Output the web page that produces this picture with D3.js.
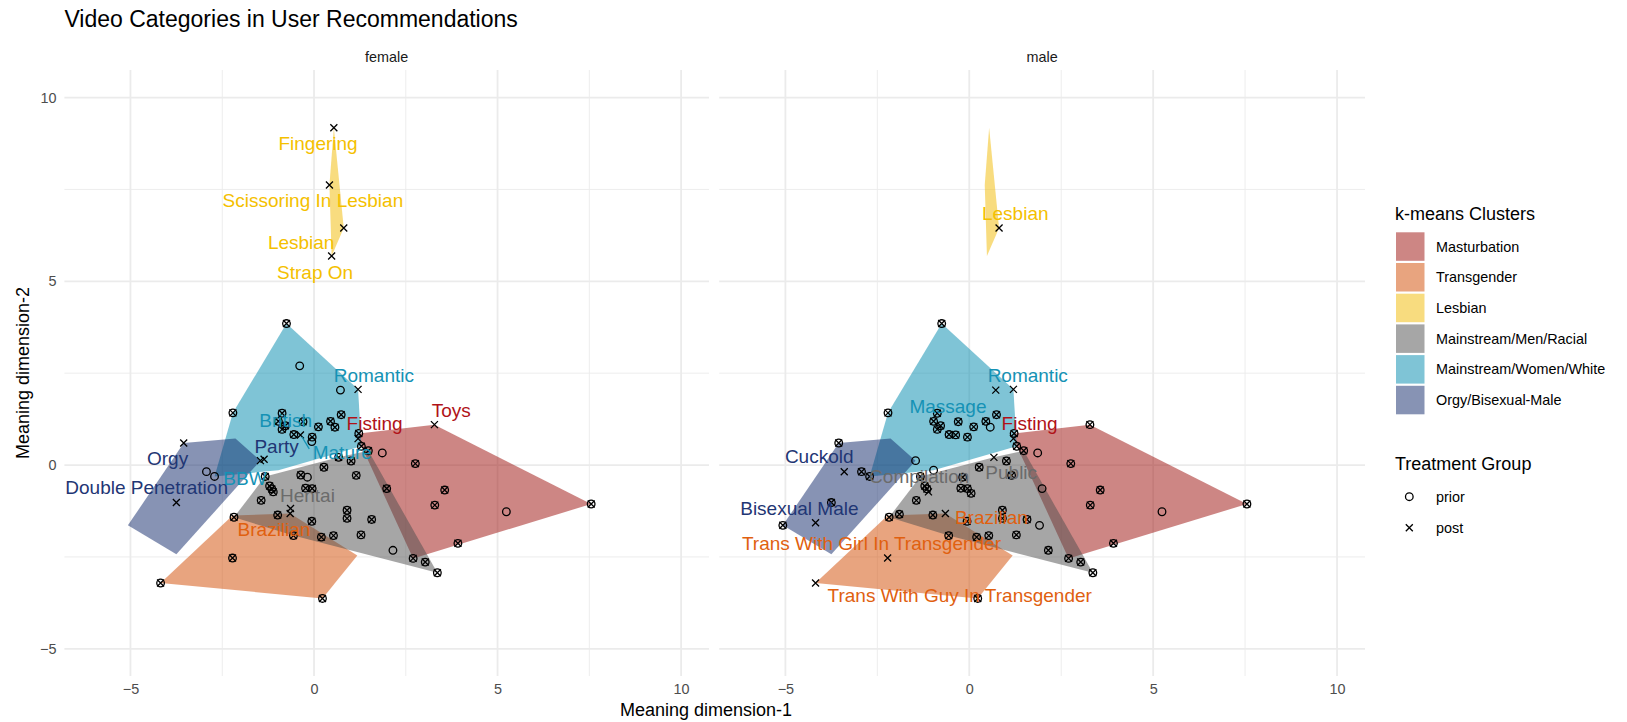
<!DOCTYPE html>
<html>
<head>
<meta charset="utf-8">
<script src="https://cdn.jsdelivr.net/npm/d3@7"></script>
<style>
  body { margin: 0; background: #fff; }
  text { font-family: Arial, "Liberation Sans", sans-serif; }
</style>
</head>
<body>
<div id="chart"></div>
<script>
// k-means cluster names (legend order)
const clusters = ["Masturbation", "Transgender", "Lesbian", "Mainstream/Men/Racial", "Mainstream/Women/White", "Orgy/Bisexual-Male"];

// category coordinates on the two meaning dimensions, shared by both facets
const dim1 = [0.54, 0.42, 0.81, 0.48,
  -0.75, -0.39, 0.72, 1.20, -2.21, -0.87, -0.97, -0.78, -0.87, -0.55, -0.37, -0.30, -0.05, -0.06, 0.12, 0.45, 0.57, 0.74, 1.29, -2.71, -1.36, -0.97,
  1.22, 1.20, 3.28, 7.55, 2.70, 1.86, 1.98, 2.76, 3.56, 3.29, 3.92, 5.24,
  -2.18, -1.33, 0.67, 1.48, 3.36, 3.03, 2.15, 1.91, 1.28, 1.57, 0.90, 0.90, 0.53, 0.20, -0.06, -0.56, -0.99, -1.44, -1.21, -1.15, -1.11, -0.64, -0.36, -0.18, -0.23, -0.05, 0.05, 0.27, 1.01, 1.15, -1.90,
  -4.18, -2.22, -0.65, 0.23, 1.18, -2.22,
  -5.07, -3.55, -2.14, -1.46, -3.75, -3.75, -3.40, -4.18, -2.93];
const dim2 = [9.18, 7.62, 6.45, 5.69,
  3.85, 2.70, 2.04, 2.06, 1.42, 1.41, 1.19, 1.07, 0.97, 0.83, 0.82, 1.18, 0.76, 0.64, 1.04, 1.19, 1.03, 1.37, 0.51, -0.31, 0.16, -0.14,
  0.86, 0.72, 1.10, -1.06, -2.54, 0.33, -0.64, 0.04, -0.68, -1.09, -2.13, -1.27,
  -1.42, -0.31, 0.21, 0.39, -2.93, -2.64, -2.32, -1.64, -1.90, -1.48, -1.23, -1.45, -1.92, -1.96, -1.53, -1.92, -1.36, -0.96, -0.57, -0.65, -0.73, -1.18, -0.27, -0.33, -0.63, -0.64, -0.77, -0.06, 0.11, -0.28, -1.34,
  -3.21, -2.53, -1.32, -3.63, -2.46, -1.37,
  -1.64, 0.60, 0.72, 0.12, -2.43, -1.02, -0.18, -1.57, -0.18];
// cluster index of each category
const cluster = [2, 2, 2, 2,
  4, 4, 4, 4, 4, 4, 4, 4, 4, 4, 4, 4, 4, 4, 4, 4, 4, 4, 4, 4, 4, 4,
  0, 0, 0, 0, 0, 0, 0, 0, 0, 0, 0, 0,
  3, 3, 3, 3, 3, 3, 3, 3, 3, 3, 3, 3, 3, 3, 3, 3, 3, 3, 3, 3, 3, 3, 3, 3, 3, 3, 3, 3, 3, 3, 3,
  1, 1, 1, 1, 1, 1,
  5, 5, 5, 5, 5, 5, 5, 5, 5];
// treatment group per facet: b = prior and post, o = prior, x = post, - = not recommended
const femaleGroup = ["x", "x", "x", "x",
  "b", "o", "o", "x", "b", "b", "b", "b", "b", "b", "x", "b", "b", "o", "b", "b", "b", "b", "b", "o", "x", "-",
  "b", "x", "x", "b", "b", "o", "b", "b", "b", "b", "b", "o",
  "b", "b", "b", "b", "b", "b", "o", "-", "b", "b", "b", "b", "b", "b", "b", "b", "b", "b", "b", "b", "b", "x", "b", "o", "b", "b", "-", "b", "b", "b", "-",
  "b", "b", "x", "b", "-", "-",
  "-", "x", "-", "x", "-", "x", "-", "-", "o"];
const maleGroup = ["-", "-", "x", "-",
  "b", "-", "x", "x", "b", "b", "b", "b", "b", "b", "b", "b", "b", "-", "b", "b", "o", "b", "b", "b", "-", "o",
  "b", "x", "b", "b", "b", "o", "o", "b", "b", "b", "b", "o",
  "b", "b", "x", "b", "b", "b", "b", "o", "b", "b", "b", "b", "b", "b", "b", "b", "b", "b", "b", "b", "x", "-", "-", "b", "b", "b", "b", "b", "b", "b", "b",
  "x", "x", "x", "b", "-", "-",
  "b", "b", "-", "o", "-", "b", "x", "x", "b"];

// text labels: [label, dim1, dim2, cluster]
const femaleLabels = [
  ["Fingering", 0.11, 8.75, 2], ["Scissoring In Lesbian", -0.03, 7.19, 2], ["Lesbian", -0.35, 6.07, 2], ["Strap On", 0.03, 5.25, 2],
  ["Romantic", 1.63, 2.45, 4], ["Toys", 3.74, 1.49, 0], ["Fisting", 1.65, 1.13, 0], ["British", -0.77, 1.22, 4],
  ["Party", -1.02, 0.50, 5], ["Mature", 0.77, 0.34, 4], ["Orgy", -3.99, 0.18, 5], ["BBW", -1.88, -0.37, 4],
  ["Double Penetration", -4.56, -0.60, 5], ["Hentai", -0.18, -0.82, 3], ["Brazilian", -1.09, -1.74, 1]];
const maleLabels = [
  ["Lesbian", 1.25, 6.84, 2], ["Romantic", 1.59, 2.43, 4], ["Massage", -0.58, 1.60, 4], ["Fisting", 1.64, 1.13, 0],
  ["Cuckold", -4.08, 0.24, 5], ["Compilation", -1.36, -0.32, 3], ["Public", 1.14, -0.21, 3], ["Bisexual Male", -4.62, -1.18, 5],
  ["Brazilian", 0.60, -1.41, 1], ["Trans With Girl In Transgender", -2.66, -2.12, 1], ["Trans With Guy In Transgender", -0.26, -3.54, 1]];
// repel segments: [x1, y1, x2, y2, cluster]
const femaleSegments = [[-0.33, 0.77, -0.13, 0.44, 4]];

const axisTicks = [-5, 0, 5, 10];
const minorTicks = [-2.5, 2.5, 7.5];

const fillColors = ["#9b0d0a", "#d14900", "#f1b900", "#4d4d4d", "#0089ad", "#0f2769"];
const textColors = ["#b01218", "#e0600f", "#f4c000", "#6b6b6b", "#1592b5", "#1f3674"];

const width = 1627, height = 722;
const svg = d3.select("#chart").append("svg")
  .attr("width", width)
  .attr("height", height);

const panelTop = 70, panelBottom = 676;
const y = d3.scaleLinear().domain([-5.74, 10.75]).range([panelBottom, panelTop]);

const panels = [
  { name: "female", group: femaleGroup, labels: femaleLabels, segments: femaleSegments, range: [64.4, 709] },
  { name: "male", group: maleGroup, labels: maleLabels, segments: [], range: [719.2, 1365] }
];

// convex hull of every cluster, from all its categories
const hulls = clusters.map((c, k) => d3.polygonHull(
  dim1.map((d, i) => [d, dim2[i], cluster[i]]).filter(p => p[2] === k).map(p => [p[0], p[1]])
));

const xShape = s => `M${-s},${-s}L${s},${s}M${-s},${s}L${s},${-s}`;

panels.forEach(p => {
  const x = d3.scaleLinear().domain([-6.8, 10.76]).range(p.range);
  const g = svg.append("g");

  /* grid */
  g.selectAll(".minorx").data(minorTicks).enter().append("line")
    .attr("x1", d => x(d)).attr("x2", d => x(d))
    .attr("y1", panelTop).attr("y2", panelBottom)
    .attr("stroke", "#ebebeb").attr("stroke-width", 0.9);
  g.selectAll(".minory").data(minorTicks).enter().append("line")
    .attr("x1", p.range[0]).attr("x2", p.range[1])
    .attr("y1", d => y(d)).attr("y2", d => y(d))
    .attr("stroke", "#ebebeb").attr("stroke-width", 0.9);
  g.selectAll(".majorx").data(axisTicks).enter().append("line")
    .attr("x1", d => x(d)).attr("x2", d => x(d))
    .attr("y1", panelTop).attr("y2", panelBottom)
    .attr("stroke", "#ebebeb").attr("stroke-width", 1.8);
  g.selectAll(".majory").data(axisTicks).enter().append("line")
    .attr("x1", p.range[0]).attr("x2", p.range[1])
    .attr("y1", d => y(d)).attr("y2", d => y(d))
    .attr("stroke", "#ebebeb").attr("stroke-width", 1.8);

  /* cluster hulls */
  g.selectAll(".hull").data(hulls).enter().append("path")
    .attr("d", h => "M" + h.map(v => [x(v[0]), y(v[1])].join(",")).join("L") + "Z")
    .attr("fill", (h, k) => fillColors[k])
    .attr("fill-opacity", 0.5);

  /* points */
  const idx = d3.range(dim1.length).filter(i => p.group[i] !== "-");
  g.selectAll(".prior").data(idx.filter(i => p.group[i] !== "x")).enter().append("circle")
    .attr("cx", i => x(dim1[i])).attr("cy", i => y(dim2[i]))
    .attr("r", 3.8)
    .attr("fill", "none").attr("stroke", "#000").attr("stroke-width", 1.3);
  g.selectAll(".post").data(idx.filter(i => p.group[i] !== "o")).enter().append("path")
    .attr("transform", i => `translate(${x(dim1[i])},${y(dim2[i])})`)
    .attr("d", xShape(3.5))
    .attr("stroke", "#000").attr("stroke-width", 1.3);

  /* labels */
  g.selectAll(".seg").data(p.segments).enter().append("line")
    .attr("x1", d => x(d[0])).attr("y1", d => y(d[1]))
    .attr("x2", d => x(d[2])).attr("y2", d => y(d[3]))
    .attr("stroke", d => textColors[d[4]]).attr("stroke-width", 1.3);
  g.selectAll(".lab").data(p.labels).enter().append("text")
    .attr("x", d => x(d[1])).attr("y", d => y(d[2]))
    .attr("dy", "0.35em")
    .attr("text-anchor", "middle")
    .attr("font-size", 19)
    .attr("fill", d => textColors[d[3]])
    .text(d => d[0]);

  /* facet strip */
  g.append("text")
    .attr("x", (p.range[0] + p.range[1]) / 2).attr("y", 62)
    .attr("text-anchor", "middle")
    .attr("font-size", 14.4).attr("fill", "#1a1a1a")
    .text(p.name);

  /* x axis */
  const ax = g.append("g")
    .attr("transform", `translate(0,${panelBottom + 4})`)
    .call(d3.axisBottom(x).tickValues(axisTicks).tickSize(0).tickPadding(4));
  ax.select(".domain").remove();
  ax.selectAll("text").attr("font-size", 14.4).attr("fill", "#4d4d4d").attr("font-family", "Arial, 'Liberation Sans', sans-serif");
});

/* y axis */
const ay = svg.append("g")
  .attr("transform", `translate(${64.4 - 4},0)`)
  .call(d3.axisLeft(y).tickValues(axisTicks).tickSize(0).tickPadding(4));
ay.select(".domain").remove();
ay.selectAll("text").attr("font-size", 14.4).attr("fill", "#4d4d4d").attr("font-family", "Arial, 'Liberation Sans', sans-serif");

/* titles */
svg.append("text").attr("x", 64.4).attr("y", 27)
  .attr("font-size", 23).attr("fill", "#000")
  .text("Video Categories in User Recommendations");
svg.append("text").attr("x", 706).attr("y", 716)
  .attr("text-anchor", "middle").attr("font-size", 18).attr("fill", "#000")
  .text("Meaning dimension-1");
svg.append("text")
  .attr("transform", `translate(29,${(panelTop + panelBottom) / 2}) rotate(-90)`)
  .attr("text-anchor", "middle").attr("font-size", 18).attr("fill", "#000")
  .text("Meaning dimension-2");

/* legend: clusters */
const legend = svg.append("g").attr("transform", "translate(1395,0)");
legend.append("text").attr("x", 0).attr("y", 220)
  .attr("font-size", 18).attr("fill", "#000").text("k-means Clusters");
const keys = legend.selectAll(".key").data(clusters).enter().append("g")
  .attr("transform", (d, k) => `translate(0,${232.3 + k * 30.7})`);
keys.append("rect").attr("x", 1).attr("width", 28.5).attr("height", 28.5)
  .attr("fill", (d, k) => fillColors[k]).attr("fill-opacity", 0.5);
keys.append("text").attr("x", 41).attr("y", 14.3).attr("dy", "0.35em")
  .attr("font-size", 14.4).attr("fill", "#000").text(d => d);

/* legend: treatment */
legend.append("text").attr("x", 0).attr("y", 470)
  .attr("font-size", 18).attr("fill", "#000").text("Treatment Group");
legend.append("circle").attr("cx", 14.3).attr("cy", 496.7).attr("r", 3.8)
  .attr("fill", "none").attr("stroke", "#000").attr("stroke-width", 1.3);
legend.append("text").attr("x", 41).attr("y", 496.7).attr("dy", "0.35em")
  .attr("font-size", 14.4).text("prior");
legend.append("path").attr("transform", "translate(14.3,527.7)").attr("d", xShape(3.5))
  .attr("stroke", "#000").attr("stroke-width", 1.3);
legend.append("text").attr("x", 41).attr("y", 527.7).attr("dy", "0.35em")
  .attr("font-size", 14.4).text("post");
</script>
</body>
</html>
